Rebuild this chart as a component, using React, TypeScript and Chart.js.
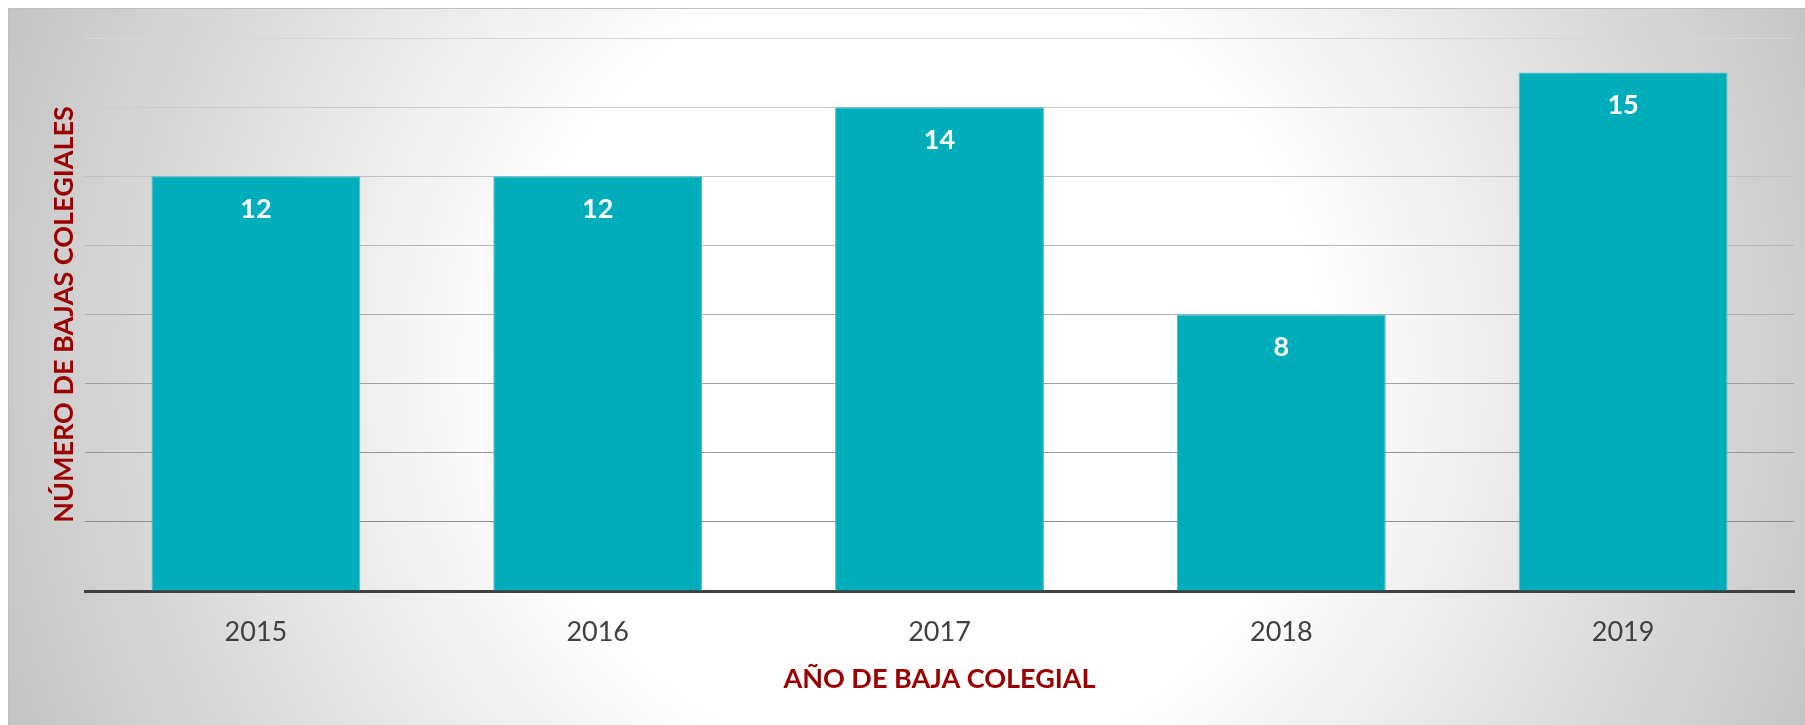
import React, { useEffect, useRef } from "react";
import { Chart, registerables } from "chart.js";

Chart.register(...registerables);

const categories = ["2015", "2016", "2017", "2018", "2019"];
const values = [12, 12, 14, 8, 15];
const xTitle = "AÑO DE BAJA COLEGIAL";
const yTitle = "NÚMERO DE BAJAS COLEGIALES";
const yMin = 0;
const yMax = 16;
const yStep = 2;

const FONT = "Lato, 'Open Sans', sans-serif";

function gridColor(v: number): string {
  if (v <= 0) return "rgba(0,0,0,0)";
  const c = Math.round(0xd6 - ((yMax - v) / (yMax - yStep)) * (0xd6 - 0x8c));
  return `rgb(${c},${c},${c})`;
}

export default function App() {
  const ref = useRef<HTMLCanvasElement | null>(null);

  useEffect(() => {
    document.body.style.overflow = "hidden";
    const labelPlugin = {
      id: "barLabels",
      afterDatasetsDraw(chart: any) {
        const ctx = chart.ctx;
        const meta = chart.getDatasetMeta(0);
        ctx.save();
        ctx.fillStyle = "#ffffff";
        ctx.font = `bold 27px ${FONT}`;
        ctx.textAlign = "center";
        ctx.textBaseline = "middle";
        meta.data.forEach((bar: any, i: number) => {
          ctx.fillText(String(values[i]), bar.x, bar.y + 33);
        });
        ctx.restore();
      },
    };

    const chart = new Chart(ref.current as HTMLCanvasElement, {
      type: "bar",
      data: {
        labels: categories,
        datasets: [
          {
            data: values,
            backgroundColor: "#00adba",
            borderColor: "#3cc0ca",
            borderWidth: 1,
            barPercentage: 0.611,
            categoryPercentage: 1,
          },
        ],
      },
      options: {
        animation: false,
        responsive: true,
        maintainAspectRatio: false,
        layout: { padding: { left: 0, right: 11, top: 30, bottom: 0 } },
        plugins: {
          legend: { display: false },
          tooltip: { enabled: false },
          title: { display: false },
        },
        scales: {
          x: {
            grid: { display: false, drawTicks: false },
            border: { display: true, color: "#404040", width: 3 },
            ticks: {
              color: "#404040",
              font: { family: FONT, size: 27 },
              padding: 25,
            },
            title: {
              display: true,
              text: xTitle,
              color: "#9a0000",
              font: { family: FONT, size: 27, weight: "bold" },
              padding: { top: 0, bottom: 30 },
            },
            afterFit(scale: any) {
              scale.height = 134;
            },
          },
          y: {
            min: yMin,
            max: yMax,
            ticks: { display: false, stepSize: yStep },
            grid: {
              drawTicks: false,
              lineWidth: 1,
              color: (ctx: any) => gridColor(ctx.tick ? ctx.tick.value : 0),
            },
            border: { display: false },
            title: {
              display: true,
              text: yTitle,
              color: "#9a0000",
              font: { family: FONT, size: 27, weight: "bold" },
              padding: { top: 40, bottom: 0 },
            },
            afterFit(scale: any) {
              scale.width = 77;
            },
          },
        },
      },
      plugins: [labelPlugin],
    });
    return () => chart.destroy();
  }, []);

  return (
    <div
      style={{
        position: "absolute",
        left: 8,
        top: 8,
        width: 1797,
        height: 717,
        background:
          "radial-gradient(circle 980px at 910px 358px, #ffffff 0px, #ffffff 400px, #c3c3c3 980px)",
        boxShadow: "inset 1px 1px 0 #bfbfbf",
      }}
    >
      <canvas ref={ref} />
    </div>
  );
}
